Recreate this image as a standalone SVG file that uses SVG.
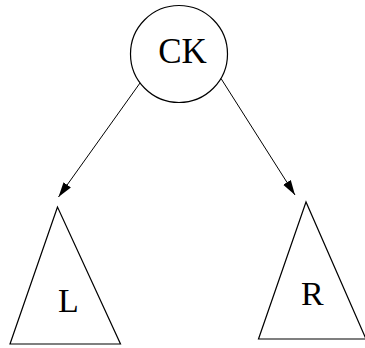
<svg xmlns="http://www.w3.org/2000/svg" width="365" height="348" viewBox="0 0 365 348">
<style>
.shape{fill:#fff;stroke:#000;stroke-width:1.2}
.lbl{font-family:"Liberation Serif","Times New Roman",serif;font-size:34px;fill:#000}
.edge{stroke:#000;stroke-width:1;fill:none}
</style>
<defs>
<marker id="ah" markerWidth="16" markerHeight="12" refX="15" refY="6" orient="auto" markerUnits="userSpaceOnUse">
<path d="M0,1.5 L15,6 L0,10.5 Z" fill="#000"/>
</marker>
</defs>
<rect width="365" height="348" fill="#fff"/>
<g id="CK">
<circle class="shape" cx="179" cy="54" r="48.5"/>
<text class="lbl" x="182.5" y="63" text-anchor="middle" style="font-size:35px">CK</text>
</g>
<g id="L">
<polygon class="shape" points="57.5,207 10,344 120.5,344"/>
<text class="lbl" x="58" y="312">L</text>
</g>
<g id="R">
<polygon class="shape" points="306,202 258.5,339 366,339"/>
<text class="lbl" x="301" y="305">R</text>
</g>
<g id="edges">
<line class="edge" x1="140" y1="83" x2="58.5" y2="197" marker-end="url(#ah)"/>
<line class="edge" x1="221" y1="78.5" x2="295" y2="195" marker-end="url(#ah)"/>
</g>
</svg>
